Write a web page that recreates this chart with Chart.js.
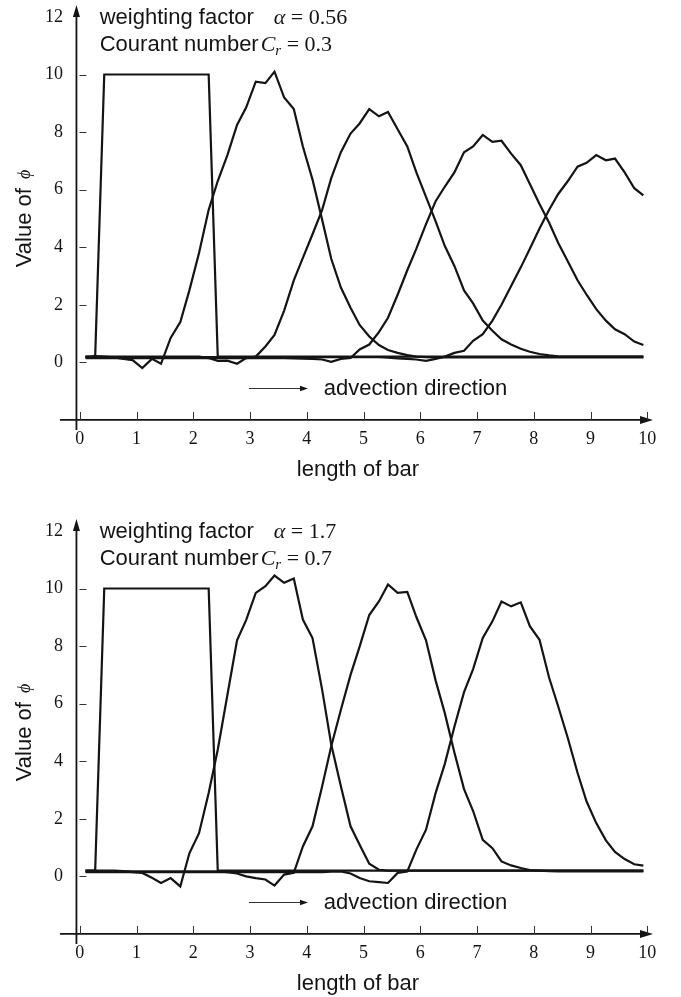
<!DOCTYPE html>
<html>
<head>
<meta charset="utf-8">
<script src="https://cdn.jsdelivr.net/npm/chart.js@4/dist/chart.umd.min.js"></script>
<style>
  html, body { margin: 0; padding: 0; background: #fff; overflow: hidden; }
  .panel { position: absolute; left: 0; width: 681px; height: 497px; }
</style>
</head>
<body>
<div class="panel" style="top:0"><canvas id="chartTop" width="681" height="497"></canvas></div>
<div class="panel" style="top:514px"><canvas id="chartBottom" width="681" height="497"></canvas></div>
<script>
// grid along the bar
const xs = [0.10, 0.27, 0.43, 0.60, 0.77, 0.93, 1.10, 1.27, 1.43, 1.60,
  1.77, 1.93, 2.10, 2.27, 2.43, 2.60, 2.77, 2.93, 3.10, 3.27,
  3.43, 3.60, 3.77, 3.93, 4.10, 4.27, 4.43, 4.60, 4.77, 4.93,
  5.10, 5.27, 5.43, 5.60, 5.77, 5.93, 6.10, 6.27, 6.43, 6.60,
  6.77, 6.93, 7.10, 7.27, 7.43, 7.60, 7.77, 7.93, 8.10, 8.27,
  8.43, 8.60, 8.77, 8.93, 9.10, 9.27, 9.43, 9.60, 9.77, 9.93];

const xTicks = [0, 1, 2, 3, 4, 5, 6, 7, 8, 9, 10];
const yTicks = [0, 2, 4, 6, 8, 10, 12];

// upper panel: alpha = 0.56, Cr = 0.3
const top1 = [0.2, 0.2, 10, 10, 10, 10, 10, 10, 10, 10,
  10, 10, 10, 10, 0.2, 0.2, 0.2, 0.2, 0.2, 0.2,
  0.2, 0.2, 0.2, 0.2, 0.2, 0.2, 0.2, 0.2, 0.2, 0.2,
  0.2, 0.2, 0.2, 0.2, 0.2, 0.2, 0.2, 0.2, 0.2, 0.2,
  0.2, 0.2, 0.2, 0.2, 0.2, 0.2, 0.2, 0.2, 0.2, 0.2,
  0.2, 0.2, 0.2, 0.2, 0.2, 0.2, 0.2, 0.2, 0.2, 0.2];
const top2 = [0.17, 0.22, 0.2, 0.17, 0.12, 0.08, -0.2, 0.12, -0.05, 0.85,
  1.4, 2.5, 3.8, 5.3, 6.3, 7.2, 8.25, 8.85, 9.75, 9.7,
  10.1, 9.2, 8.8, 7.5, 6.35, 4.95, 3.6, 2.6, 1.9, 1.3,
  0.9, 0.6, 0.43, 0.33, 0.25, 0.2, 0.18, 0.17, 0.17, 0.17,
  0.17, 0.17, 0.17, 0.17, 0.17, 0.17, 0.17, 0.17, 0.17, 0.17,
  0.17, 0.17, 0.17, 0.17, 0.17, 0.17, 0.17, 0.17, 0.17, 0.17];
const top3 = [0.2, 0.2, 0.2, 0.2, 0.2, 0.2, 0.2, 0.2, 0.2, 0.2,
  0.2, 0.2, 0.2, 0.15, 0.05, 0.06, -0.05, 0.15, 0.2, 0.55,
  0.95, 1.8, 2.85, 3.63, 4.45, 5.3, 6.4, 7.3, 7.95, 8.3,
  8.8, 8.55, 8.7, 8.1, 7.5, 6.6, 5.75, 4.9, 4.05, 3.35,
  2.5, 2.05, 1.45, 1.1, 0.8, 0.62, 0.47, 0.37, 0.29, 0.24,
  0.21, 0.2, 0.2, 0.2, 0.2, 0.2, 0.2, 0.2, 0.2, 0.2];
const top4 = [0.15, 0.15, 0.15, 0.15, 0.15, 0.15, 0.15, 0.15, 0.15, 0.15,
  0.15, 0.15, 0.15, 0.15, 0.15, 0.15, 0.15, 0.15, 0.15, 0.15,
  0.15, 0.15, 0.14, 0.13, 0.12, 0.1, 0.02, 0.12, 0.15, 0.45,
  0.62, 1.05, 1.55, 2.35, 3.2, 3.95, 4.8, 5.6, 6.1, 6.6,
  7.3, 7.5, 7.9, 7.66, 7.7, 7.25, 6.85, 6.2, 5.5, 4.85,
  4.15, 3.5, 2.85, 2.35, 1.85, 1.45, 1.15, 0.98, 0.72, 0.6];
const top5 = [0.18, 0.18, 0.18, 0.18, 0.18, 0.18, 0.18, 0.18, 0.18, 0.18,
  0.18, 0.18, 0.18, 0.18, 0.18, 0.18, 0.18, 0.18, 0.18, 0.18,
  0.18, 0.18, 0.18, 0.18, 0.18, 0.18, 0.18, 0.18, 0.18, 0.18,
  0.18, 0.18, 0.16, 0.14, 0.12, 0.1, 0.05, 0.12, 0.2, 0.33,
  0.4, 0.75, 0.98, 1.45, 2.0, 2.65, 3.3, 3.95, 4.65, 5.3,
  5.85, 6.3, 6.8, 6.93, 7.2, 7.02, 7.08, 6.6, 6.05, 5.8];

// lower panel: alpha = 1.7, Cr = 0.7
const bot1 = [0.2, 0.2, 10, 10, 10, 10, 10, 10, 10, 10,
  10, 10, 10, 10, 0.2, 0.2, 0.2, 0.2, 0.2, 0.2,
  0.2, 0.2, 0.2, 0.2, 0.2, 0.2, 0.2, 0.2, 0.2, 0.2,
  0.2, 0.2, 0.2, 0.2, 0.2, 0.2, 0.2, 0.2, 0.2, 0.2,
  0.2, 0.2, 0.2, 0.2, 0.2, 0.2, 0.2, 0.2, 0.2, 0.2,
  0.2, 0.2, 0.2, 0.2, 0.2, 0.2, 0.2, 0.2, 0.2, 0.2];
const bot2 = [0.2, 0.2, 0.2, 0.2, 0.18, 0.15, 0.12, -0.05, -0.23, -0.06,
  -0.35, 0.8, 1.5, 2.9, 4.4, 6.3, 8.2, 8.9, 9.85, 10.08,
  10.45, 10.2, 10.35, 8.92, 8.28, 6.48, 4.58, 3.13, 1.74, 1.1,
  0.44, 0.23, 0.2, 0.2, 0.2, 0.2, 0.2, 0.2, 0.2, 0.2,
  0.2, 0.2, 0.2, 0.2, 0.2, 0.2, 0.2, 0.2, 0.2, 0.2,
  0.2, 0.2, 0.2, 0.2, 0.2, 0.2, 0.2, 0.2, 0.2, 0.2];
const bot3 = [0.17, 0.17, 0.17, 0.17, 0.17, 0.17, 0.17, 0.17, 0.17, 0.17,
  0.17, 0.17, 0.17, 0.17, 0.17, 0.15, 0.1, 0.0, -0.06, -0.11,
  -0.32, 0.06, 0.12, 1.04, 1.74, 3.13, 4.52, 5.79, 7.0, 7.98,
  9.08, 9.55, 10.14, 9.85, 9.88, 9.01, 8.2, 6.8, 5.68, 4.3,
  3.03, 2.27, 1.27, 0.98, 0.52, 0.38, 0.29, 0.22, 0.2, 0.18,
  0.17, 0.17, 0.17, 0.17, 0.17, 0.17, 0.17, 0.17, 0.17, 0.17];
const bot4 = [0.15, 0.15, 0.15, 0.15, 0.15, 0.15, 0.15, 0.15, 0.15, 0.15,
  0.15, 0.15, 0.15, 0.15, 0.15, 0.15, 0.15, 0.15, 0.15, 0.15,
  0.15, 0.15, 0.15, 0.15, 0.15, 0.15, 0.16, 0.17, 0.1, -0.06,
  -0.17, -0.2, -0.23, 0.12, 0.17, 0.93, 1.62, 2.9, 3.9, 5.2,
  6.4, 7.2, 8.28, 8.86, 9.55, 9.38, 9.52, 8.69, 8.22, 6.9,
  5.9, 4.8, 3.6, 2.6, 1.85, 1.25, 0.85, 0.6, 0.42, 0.37];

const alphaLabels = ['0.56', '1.7'];
const courantLabels = ['0.3', '0.7'];

const SANS = '"Liberation Sans", Arial, sans-serif';
const SERIF = '"Liberation Serif", "Times New Roman", serif';
const INK = '#141414';

function textRun(ctx, x, y, parts) {
  parts.forEach(p => {
    ctx.font = p.f;
    x += p.dx || 0;
    ctx.fillText(p.t, x, y + (p.dy || 0));
    x += ctx.measureText(p.t).width;
  });
}

const sketchAxes = {
  id: 'sketchAxes',
  afterDraw(chart, args, opts) {
    const { ctx, chartArea: a, scales: { x, y } } = chart;
    const ax = x.getPixelForValue(-0.06);
    const ay = y.getPixelForValue(-2);
    const x0 = x.getPixelForValue(-0.35);
    ctx.save();
    ctx.strokeStyle = INK;
    ctx.fillStyle = INK;

    // axes with arrow heads
    ctx.lineWidth = 1.8;
    ctx.beginPath();
    ctx.moveTo(ax, a.bottom);
    ctx.lineTo(ax, a.top + 8);
    ctx.moveTo(x0, ay);
    ctx.lineTo(a.right - 8, ay);
    ctx.stroke();
    ctx.beginPath();
    ctx.moveTo(ax, a.top + 1);
    ctx.lineTo(ax - 3.5, a.top + 13);
    ctx.lineTo(ax + 3.5, a.top + 13);
    ctx.closePath();
    ctx.moveTo(a.right, ay);
    ctx.lineTo(a.right - 13, ay - 4);
    ctx.lineTo(a.right - 13, ay + 4);
    ctx.closePath();
    ctx.fill();

    // tick marks
    ctx.lineWidth = 1;
    ctx.strokeStyle = '#333';
    ctx.beginPath();
    y.ticks.forEach(t => {
      if (t.value >= 12) return;
      const py = Math.round(y.getPixelForValue(t.value)) + 0.5;
      ctx.moveTo(ax + 3, py);
      ctx.lineTo(ax + 10, py);
    });
    x.ticks.forEach(t => {
      const px = Math.round(x.getPixelForValue(t.value)) + 0.5;
      ctx.moveTo(px, ay);
      ctx.lineTo(px, ay - 8);
    });
    ctx.stroke();

    // advection arrow
    const ry = Math.round(y.getPixelForValue(-0.9)) + 0.5;
    const r0 = x.getPixelForValue(2.98);
    const r1 = x.getPixelForValue(4.02);
    ctx.beginPath();
    ctx.moveTo(r0, ry);
    ctx.lineTo(r1 - 6, ry);
    ctx.stroke();
    ctx.beginPath();
    ctx.moveTo(r1, ry);
    ctx.lineTo(r1 - 8, ry - 2.8);
    ctx.lineTo(r1 - 8, ry + 2.8);
    ctx.closePath();
    ctx.fill();
    ctx.textBaseline = 'alphabetic';
    ctx.textAlign = 'left';
    ctx.font = '22px ' + SANS;
    ctx.fillText('advection direction', x.getPixelForValue(4.3), ry + 6);

    // parameter notes
    const tx = x.getPixelForValue(0.35);
    const b1 = y.getPixelForValue(11.76);
    const b2 = y.getPixelForValue(10.83);
    textRun(ctx, tx, b1, [
      { t: 'weighting factor', f: '22px ' + SANS },
      { t: 'α', f: 'italic 22px ' + SERIF, dx: 20 },
      { t: ' = ' + opts.alpha, f: '22px ' + SERIF }
    ]);
    textRun(ctx, tx, b2, [
      { t: 'Courant number', f: '22px ' + SANS },
      { t: 'C', f: 'italic 22px ' + SERIF, dx: 2 },
      { t: 'r', f: 'italic 15px ' + SERIF, dy: 4 },
      { t: ' = ' + opts.courant, f: '22px ' + SERIF }
    ]);

    // y axis title
    ctx.translate(25, y.getPixelForValue(5));
    ctx.rotate(-Math.PI / 2);
    ctx.font = '22px ' + SANS;
    const w1 = ctx.measureText('Value of ').width;
    ctx.font = 'italic 18px ' + SERIF;
    const w2 = ctx.measureText('ϕ').width;
    ctx.textBaseline = 'middle';
    const sx = -(w1 + 3 + w2) / 2;
    ctx.font = '22px ' + SANS;
    ctx.fillText('Value of ', sx, 0);
    ctx.font = 'italic 18px ' + SERIF;
    ctx.fillText('ϕ', sx + w1 + 3, 0);
    ctx.restore();
  }
};

function noEdgePadding(s) {
  s.paddingTop = 0;
  s.paddingBottom = 0;
  s.paddingLeft = 0;
  s.paddingRight = 0;
}

function makeChart(id, series, alpha, courant) {
  return new Chart(document.getElementById(id), {
    type: 'line',
    data: {
      datasets: series.map(ys => ({
        data: xs.map((v, i) => ({ x: v, y: ys[i] })),
        borderColor: INK,
        borderWidth: 2.2,
        pointRadius: 0,
        tension: 0,
        fill: false
      }))
    },
    options: {
      responsive: false,
      animation: false,
      layout: { padding: { top: 4, left: 0, right: 28, bottom: 0 } },
      plugins: {
        legend: { display: false },
        tooltip: { enabled: false },
        sketchAxes: { alpha, courant }
      },
      scales: {
        x: {
          type: 'linear', min: -0.297, max: 10.1,
          grid: { display: false, drawTicks: false },
          border: { display: false },
          afterBuildTicks: s => { s.ticks = xTicks.map(v => ({ value: v })); },
          afterFit: s => { s.height = 67; noEdgePadding(s); },
          ticks: { font: { family: SERIF, size: 18 }, color: INK, padding: -2, autoSkip: false, maxRotation: 0 },
          title: { display: true, text: 'length of bar', color: INK, font: { family: SANS, size: 22 }, padding: { top: 0, bottom: 14 } }
        },
        y: {
          type: 'linear', min: -2.35, max: 12.45,
          grid: { display: false, drawTicks: false },
          border: { display: false },
          afterBuildTicks: s => { s.ticks = yTicks.map(v => ({ value: v })); },
          afterFit: s => { s.width = 63; noEdgePadding(s); },
          ticks: { font: { family: SERIF, size: 18 }, color: INK, padding: 0 }
        }
      }
    },
    plugins: [sketchAxes]
  });
}

makeChart('chartTop', [top1, top2, top3, top4, top5], alphaLabels[0], courantLabels[0]);
makeChart('chartBottom', [bot1, bot2, bot3, bot4], alphaLabels[1], courantLabels[1]);
</script>
</body>
</html>
